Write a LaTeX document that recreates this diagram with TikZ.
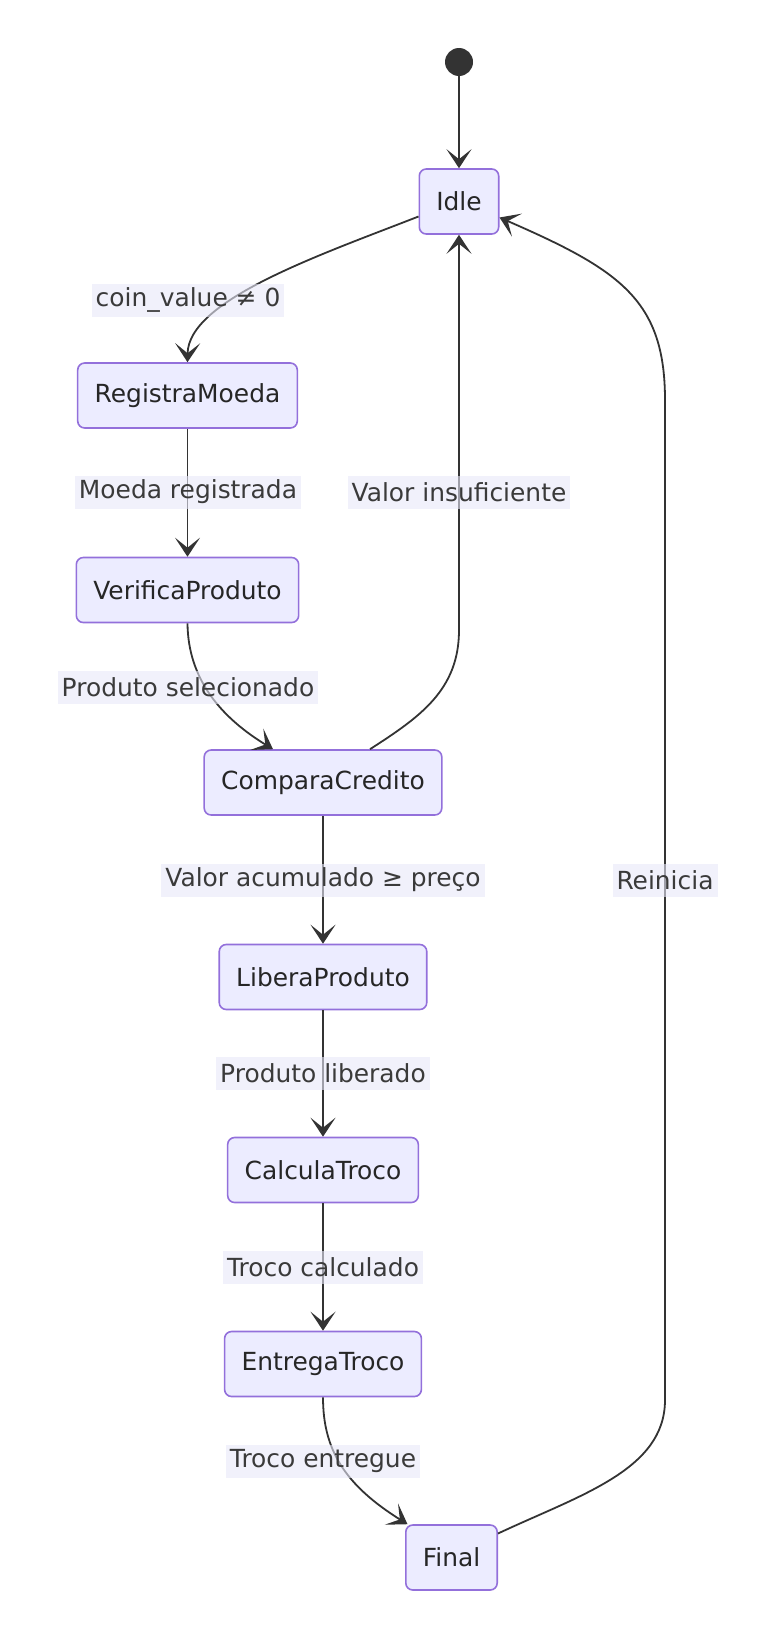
\documentclass[tikz,border=0pt]{standalone}
\usepackage{fontspec}
\setmainfont{DejaVu Sans}
\usetikzlibrary{arrows.meta}
\definecolor{nodefill}{HTML}{ECECFF}
\definecolor{nodeborder}{HTML}{9370DB}
\definecolor{edgecol}{HTML}{333333}
\definecolor{lblfill}{HTML}{E8E8F8}
\definecolor{txt}{HTML}{3A3A3A}
\begin{document}
\begin{tikzpicture}[x=1bp,y=-1bp,
  state/.style={draw=nodeborder, fill=nodefill, line width=1.6bp, rounded corners=7bp,
    minimum height=65bp, inner xsep=17bp, font=\fontsize{25}{30}\selectfont, text=black!85},
  lbl/.style={fill=lblfill, fill opacity=0.6, text opacity=1, inner xsep=4bp, inner ysep=0bp,
    minimum height=33bp, font=\fontsize{25}{30}\selectfont, text=txt},
  edge/.style={draw=edgecol, line width=1.8bp, -{Stealth[length=19bp,width=25bp,inset=10bp]}}
]
\useasboundingbox (0,0) rectangle (767,1641);
\node[circle, fill=edgecol, minimum size=28bp, inner sep=0pt] (start) at (459,62) {};
\node[state] (idle) at (459,201.5) {Idle};
\node[state] (rm) at (187.5,395.5) {RegistraMoeda};
\node[state] (vp) at (187.5,590) {VerificaProduto};
\node[state] (cc) at (323,782.5) {ComparaCredito};
\node[state] (lp) at (323,977) {LiberaProduto};
\node[state] (ct) at (323,1170) {CalculaTroco};
\node[state] (et) at (323,1364) {EntregaTroco};
\node[state] (final) at (451.5,1557.5) {Final};

\draw[edge] (start) -- (idle);
\draw[edge] ([yshift=-15bp]idle.west) .. controls (320,255) and (188,300) .. (rm.north);
\draw[edge] (rm) -- (vp);
\draw[edge] (vp.south) .. controls (188,680) and (222,718) .. ([xshift=-50bp]cc.north);
\draw[edge] ([xshift=47bp]cc.north) .. controls (420,717) and (459,690) .. (459,630) -- (idle.south);
\draw[edge] (cc) -- (lp);
\draw[edge] (lp) -- (ct);
\draw[edge] (ct) -- (et);
\draw[edge] (et.south) .. controls (323,1450) and (345,1485) .. ([xshift=-44bp]final.north);
\draw[edge] ([yshift=24bp]final.east) .. controls (580,1495) and (665,1470) .. (665,1400) -- (665,400) .. controls (665,300) and (620,270) .. ([yshift=-16bp]idle.east);

\node[lbl] (l1) at (188,300) {coin\_value ≠ 0};
\node[lbl] (l2) at (188,492) {Moeda registrada};
\node[lbl] (l3) at (188,687) {Produto selecionado};
\node[lbl] (l4) at (459,492) {Valor insuficiente};
\node[lbl] (l5) at (323,880) {Valor acumulado ≥ preço};
\node[lbl] (l6) at (665,880) {Reinicia};
\node[lbl] (l7) at (323,1073) {Produto liberado};
\node[lbl] (l8) at (323,1267) {Troco calculado};
\node[lbl] (l9) at (323,1461) {Troco entregue};
\end{tikzpicture}
\end{document}
